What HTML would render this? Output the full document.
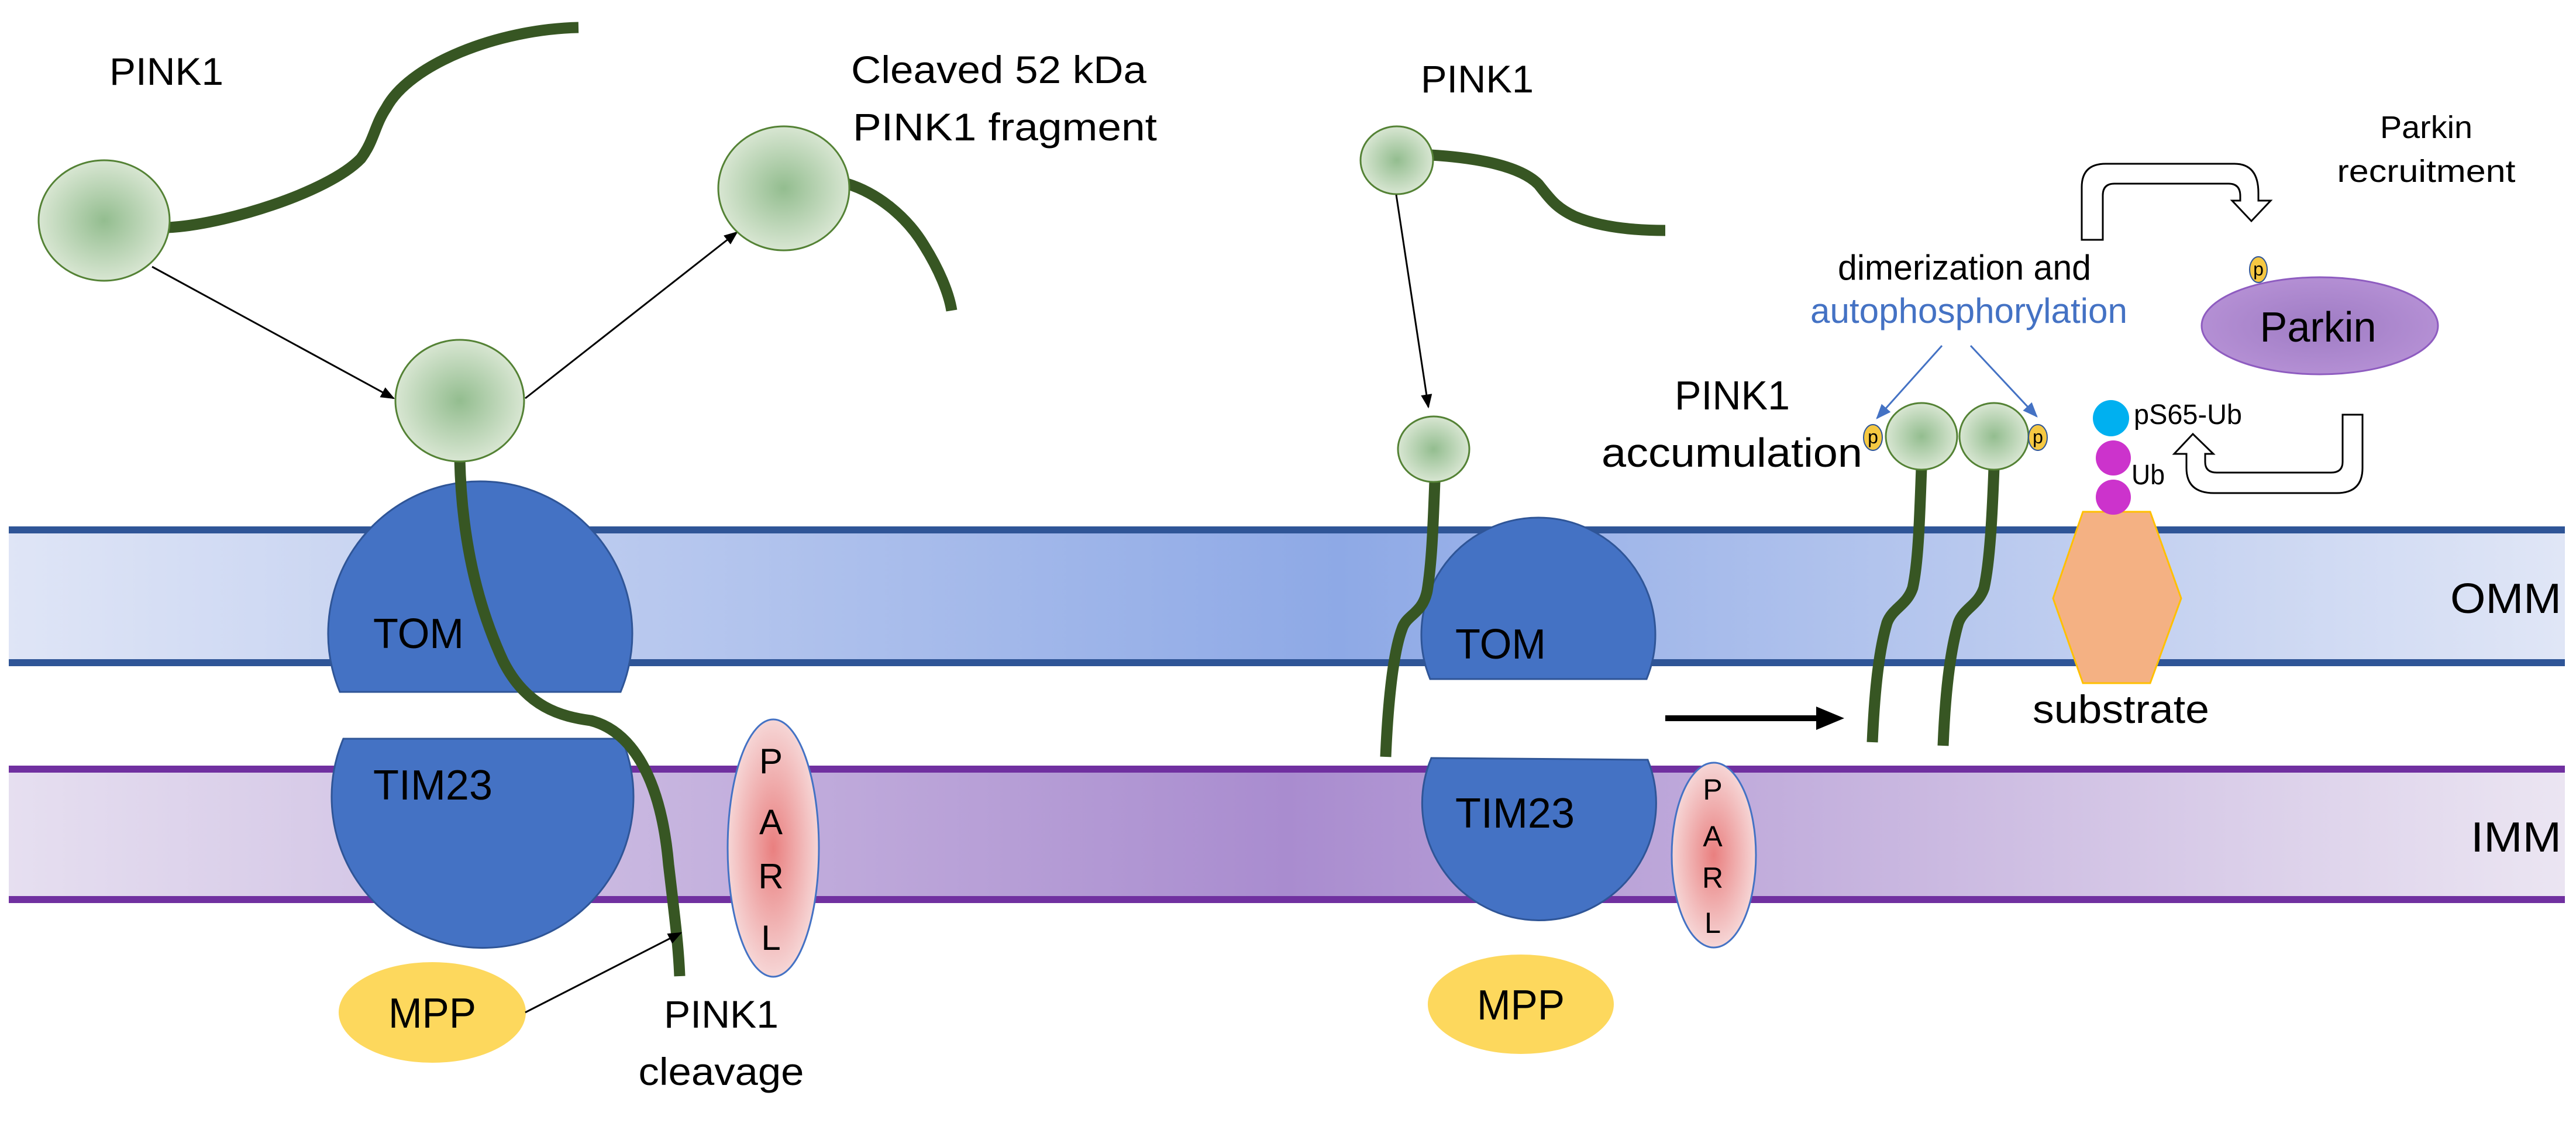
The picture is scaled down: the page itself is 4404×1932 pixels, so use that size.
<!DOCTYPE html>
<html><head><meta charset="utf-8"><style>html,body{margin:0;padding:0;background:#fff}svg{display:block}text{font-family:"Liberation Sans",sans-serif}</style></head><body>
<svg width="4404" height="1932" viewBox="0 0 4404 1932" xmlns="http://www.w3.org/2000/svg">
<defs>
<linearGradient id="omm" x1="0" x2="1" y1="0" y2="0"><stop offset="0" stop-color="#dfe5f6"/><stop offset="0.52" stop-color="#8ea9e6"/><stop offset="1" stop-color="#e0e6f6"/></linearGradient>
<linearGradient id="imm" x1="0" x2="1" y1="0" y2="0"><stop offset="0" stop-color="#e6dff0"/><stop offset="0.5" stop-color="#a98ccf"/><stop offset="1" stop-color="#ebe5f2"/></linearGradient>
<radialGradient id="gc"><stop offset="0" stop-color="#93bd8f"/><stop offset="1" stop-color="#d8e6d2"/></radialGradient>
<radialGradient id="pc"><stop offset="0" stop-color="#e97f7f"/><stop offset="1" stop-color="#f6d6d6"/></radialGradient>
<radialGradient id="pk"><stop offset="0" stop-color="#9f7cc4"/><stop offset="1" stop-color="#b48fd4"/></radialGradient>
<marker id="ahs" viewBox="0 0 10 10" refX="9" refY="5" markerWidth="24" markerHeight="24" orient="auto" markerUnits="userSpaceOnUse"><path d="M0,1 L10,5 L0,9z" fill="#000"/></marker>
<marker id="ahb" viewBox="0 0 10 10" refX="9" refY="5" markerWidth="26" markerHeight="26" orient="auto" markerUnits="userSpaceOnUse"><path d="M0,1 L10,5 L0,9z" fill="#4472c4"/></marker>
</defs>
<rect x="15" y="906" width="4370" height="228" fill="url(#omm)"/>
<line x1="15" y1="906" x2="4385" y2="906" stroke="#2f5597" stroke-width="12"/>
<line x1="15" y1="1133" x2="4385" y2="1133" stroke="#2f5597" stroke-width="12"/>
<rect x="15" y="1315" width="4370" height="223" fill="url(#imm)"/>
<line x1="15" y1="1315" x2="4385" y2="1315" stroke="#7030a0" stroke-width="12"/>
<line x1="15" y1="1538" x2="4385" y2="1538" stroke="#7030a0" stroke-width="12"/>

<text x="187" y="145" font-size="66" textLength="195" lengthAdjust="spacingAndGlyphs">PINK1</text>
<text x="1455" y="142" font-size="66" textLength="505" lengthAdjust="spacingAndGlyphs">Cleaved 52 kDa</text>
<text x="1458" y="240" font-size="66" textLength="520" lengthAdjust="spacingAndGlyphs">PINK1 fragment</text>
<path d="M286,389 C380,385 560,330 617,271 C640,240 640,215 660,185 C700,110 850,50 989,47" fill="none" stroke="#375623" stroke-width="19"/>
<ellipse cx="178" cy="377" rx="112" ry="103" fill="url(#gc)" stroke="#548235" stroke-width="3"/>
<line x1="260" y1="456" x2="673" y2="681" stroke="#000" stroke-width="3" marker-end="url(#ahs)"/>
<line x1="898" y1="681" x2="1260" y2="397" stroke="#000" stroke-width="3" marker-end="url(#ahs)"/>
<path d="M1448,314 C1500,330 1550,370 1580,420 C1605,460 1622,500 1627,531" fill="none" stroke="#375623" stroke-width="19"/>
<ellipse cx="1340" cy="322" rx="112" ry="106" fill="url(#gc)" stroke="#548235" stroke-width="3"/>
<path d="M581,1183 A260,260 0 1,1 1061,1183 Z" fill="#4472c4" stroke="#2f5597" stroke-width="3"/>
<path d="M587,1263 A258,258 0 1,0 1063,1263 Z" fill="#4472c4" stroke="#2f5597" stroke-width="3"/>
<text x="638" y="1108" font-size="72" textLength="155" lengthAdjust="spacingAndGlyphs">TOM</text>
<text x="638" y="1367" font-size="72" textLength="204" lengthAdjust="spacingAndGlyphs">TIM23</text>
<path d="M786,785 C788,870 800,1000 860,1130 C900,1210 960,1225 1010,1232 C1080,1250 1130,1330 1143,1478 C1155,1580 1160,1620 1162,1669" fill="none" stroke="#375623" stroke-width="19"/>
<ellipse cx="786" cy="685" rx="110" ry="104" fill="url(#gc)" stroke="#548235" stroke-width="3"/>
<ellipse cx="1322" cy="1450" rx="78" ry="220" fill="url(#pc)" stroke="#4472c4" stroke-width="3"/>
<g font-size="60" text-anchor="middle"><text x="1318" y="1322">P</text><text x="1318" y="1426">A</text><text x="1318" y="1519">R</text><text x="1318" y="1624">L</text></g>
<ellipse cx="739" cy="1731" rx="160" ry="86" fill="#fdd85d"/>
<text x="739" y="1757" font-size="72" text-anchor="middle" textLength="150" lengthAdjust="spacingAndGlyphs">MPP</text>
<line x1="898" y1="1731" x2="1164" y2="1595" stroke="#000" stroke-width="3" marker-end="url(#ahs)"/>
<text x="1233" y="1757" font-size="66" text-anchor="middle" textLength="196" lengthAdjust="spacingAndGlyphs">PINK1</text>
<text x="1233" y="1855" font-size="66" text-anchor="middle" textLength="283" lengthAdjust="spacingAndGlyphs">cleavage</text>

<text x="2429" y="158" font-size="66" textLength="193" lengthAdjust="spacingAndGlyphs">PINK1</text>
<path d="M2446,265 C2530,270 2600,285 2630,315 C2650,340 2660,355 2692,370 C2740,390 2800,394 2847,394" fill="none" stroke="#375623" stroke-width="19"/>
<ellipse cx="2388" cy="274" rx="62" ry="58" fill="url(#gc)" stroke="#548235" stroke-width="3"/>
<line x1="2387" y1="333" x2="2442" y2="696" stroke="#000" stroke-width="3" marker-end="url(#ahs)"/>
<path d="M2445,1161 A200,200 0 1,1 2815,1161 Z" fill="#4472c4" stroke="#2f5597" stroke-width="3"/>
<path d="M2447,1296 L2817,1299 A200,200 0 1,1 2447,1296 Z" fill="#4472c4" stroke="#2f5597" stroke-width="3"/>
<text x="2488" y="1126" font-size="72" textLength="155" lengthAdjust="spacingAndGlyphs">TOM</text>
<text x="2488" y="1415" font-size="72" textLength="204" lengthAdjust="spacingAndGlyphs">TIM23</text>
<path d="M2453,823 C2450,900 2448,960 2440,1010 C2432,1050 2405,1050 2397,1075 C2380,1120 2372,1220 2369,1294" fill="none" stroke="#375623" stroke-width="19"/>
<ellipse cx="2451" cy="768" rx="61" ry="56" fill="url(#gc)" stroke="#548235" stroke-width="3"/>
<ellipse cx="2930" cy="1462" rx="72" ry="158" fill="url(#pc)" stroke="#4472c4" stroke-width="3"/>
<g font-size="50" text-anchor="middle"><text x="2928" y="1367">P</text><text x="2928" y="1447">A</text><text x="2928" y="1518">R</text><text x="2928" y="1595">L</text></g>
<ellipse cx="2600" cy="1717" rx="159" ry="85" fill="#fdd85d"/>
<text x="2600" y="1743" font-size="72" text-anchor="middle" textLength="150" lengthAdjust="spacingAndGlyphs">MPP</text>
<line x1="2847" y1="1228" x2="3110" y2="1228" stroke="#000" stroke-width="10"/>
<path d="M3105,1208 L3153,1228 L3105,1248Z" fill="#000"/>
<text x="2863" y="700" font-size="70" textLength="197" lengthAdjust="spacingAndGlyphs">PINK1</text>
<text x="2738" y="798" font-size="70" textLength="446" lengthAdjust="spacingAndGlyphs">accumulation</text>
<text x="3142" y="478" font-size="60" textLength="433" lengthAdjust="spacingAndGlyphs">dimerization and</text>
<text x="3095" y="552" font-size="60" fill="#4472c4" textLength="542" lengthAdjust="spacingAndGlyphs">autophosphorylation</text>
<line x1="3320" y1="591" x2="3209" y2="715" stroke="#4472c4" stroke-width="3" marker-end="url(#ahb)"/>
<line x1="3369" y1="591" x2="3482" y2="712" stroke="#4472c4" stroke-width="3" marker-end="url(#ahb)"/>
<path d="M3285,800 C3282,880 3280,960 3270,1005 C3260,1035 3235,1040 3226,1065 C3210,1120 3204,1200 3201,1269" fill="none" stroke="#375623" stroke-width="19"/>
<path d="M3409,800 C3406,880 3402,960 3392,1005 C3382,1035 3357,1040 3348,1065 C3332,1120 3325,1200 3322,1275" fill="none" stroke="#375623" stroke-width="19"/>
<ellipse cx="3285" cy="746" rx="61" ry="57" fill="url(#gc)" stroke="#548235" stroke-width="3"/>
<ellipse cx="3409" cy="746" rx="59" ry="57" fill="url(#gc)" stroke="#548235" stroke-width="3"/>
<g font-size="32" text-anchor="middle">
<ellipse cx="3202" cy="748" rx="16" ry="22" fill="#f5c842" stroke="#2f5597" stroke-width="2"/><text x="3202" y="758">p</text>
<ellipse cx="3484" cy="748" rx="16" ry="22" fill="#f5c842" stroke="#2f5597" stroke-width="2"/><text x="3484" y="758">p</text>
<ellipse cx="3861" cy="461" rx="15" ry="22" fill="#f5c842" stroke="#2f5597" stroke-width="2"/><text x="3861" y="471">p</text>
</g>
<polygon points="3561,875 3676,875 3729,1023 3676,1168 3561,1168 3510,1023" fill="#f4b183" stroke="#ffc000" stroke-width="3"/>
<text x="3475" y="1236" font-size="68" textLength="302" lengthAdjust="spacingAndGlyphs">substrate</text>
<circle cx="3613" cy="850" r="30" fill="#cc33cc"/>
<circle cx="3613" cy="783" r="30" fill="#cc33cc"/>
<circle cx="3609" cy="715" r="31" fill="#00b0f0"/>
<text x="3648" y="725" font-size="48" textLength="185" lengthAdjust="spacingAndGlyphs">pS65-Ub</text>
<text x="3644" y="828" font-size="48" textLength="57" lengthAdjust="spacingAndGlyphs">Ub</text>
<ellipse cx="3966" cy="557" rx="202" ry="83" fill="url(#pk)" stroke="#8e5cc0" stroke-width="3"/>
<text x="3963" y="584" font-size="72" text-anchor="middle" textLength="199" lengthAdjust="spacingAndGlyphs">Parkin</text>
<text x="4148" y="236" font-size="54" text-anchor="middle" textLength="158" lengthAdjust="spacingAndGlyphs">Parkin</text>
<text x="4148" y="311" font-size="54" text-anchor="middle" textLength="305" lengthAdjust="spacingAndGlyphs">recruitment</text>
<path d="M3559,410 L3559,320 Q3559,280 3600,280 L3820,280 Q3861,280 3861,330 L3861,343 L3882,343 L3849,378 L3816,343 L3830,343 L3830,335 Q3830,314 3810,314 L3615,314 Q3595,314 3595,334 L3595,410 Z" fill="#fff" stroke="#000" stroke-width="3"/>
<path d="M4039,709 L4039,800 Q4039,843 3995,843 L3785,843 Q3738,843 3738,800 L3738,776 L3717,776 L3749,742 L3784,776 L3770,776 L3770,790 Q3770,808 3790,808 L3985,808 Q4005,808 4005,790 L4005,709 Z" fill="#fff" stroke="#000" stroke-width="3"/>
<text x="4189" y="1048" font-size="72" textLength="190" lengthAdjust="spacingAndGlyphs">OMM</text>
<text x="4224" y="1456" font-size="72" textLength="155" lengthAdjust="spacingAndGlyphs">IMM</text>
</svg>
</body></html>
